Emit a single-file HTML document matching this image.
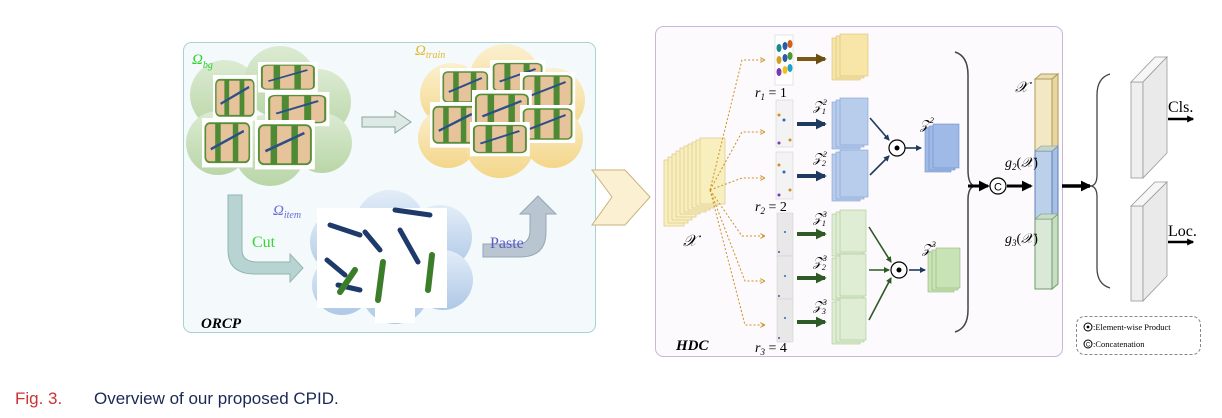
<!DOCTYPE html>
<html><head><meta charset="utf-8"><style>
html,body{margin:0;padding:0;background:#fff;width:1222px;height:418px;overflow:hidden}
svg{display:block}
.m{font-family:"Liberation Serif",serif;font-style:italic}
</style></head><body>
<svg width="1222" height="418" viewBox="0 0 1222 418" xmlns="http://www.w3.org/2000/svg">
<defs>
<marker id="ah" markerUnits="userSpaceOnUse" viewBox="0 0 6 6" markerWidth="11" markerHeight="11" refX="5" refY="3" orient="auto"><path d="M0,0 L6,3 L0,6 z" fill="#000"/></marker>
<marker id="ahs" markerUnits="userSpaceOnUse" viewBox="0 0 6 6" markerWidth="7" markerHeight="7" refX="5" refY="3" orient="auto"><path d="M0,0 L6,3 L0,6 z" fill="#000"/></marker>
<marker id="ab" markerUnits="userSpaceOnUse" viewBox="0 0 6 6" markerWidth="11" markerHeight="11" refX="5" refY="3" orient="auto"><path d="M0,0 L6,3 L0,6 z" fill="#1f3a60"/></marker>
<marker id="abs" markerUnits="userSpaceOnUse" viewBox="0 0 6 6" markerWidth="6" markerHeight="6" refX="5" refY="3" orient="auto"><path d="M0,0 L6,3 L0,6 z" fill="#1f3a60"/></marker>
<marker id="ag" markerUnits="userSpaceOnUse" viewBox="0 0 6 6" markerWidth="11" markerHeight="11" refX="5" refY="3" orient="auto"><path d="M0,0 L6,3 L0,6 z" fill="#2f5a25"/></marker>
<marker id="ags" markerUnits="userSpaceOnUse" viewBox="0 0 6 6" markerWidth="6" markerHeight="6" refX="5" refY="3" orient="auto"><path d="M0,0 L6,3 L0,6 z" fill="#2f5a25"/></marker>
<marker id="ao" markerUnits="userSpaceOnUse" viewBox="0 0 6 6" markerWidth="11" markerHeight="11" refX="5" refY="3" orient="auto"><path d="M0,0 L6,3 L0,6 z" fill="#6b4f10"/></marker>
<marker id="ad" markerUnits="userSpaceOnUse" viewBox="0 0 5 5" markerWidth="5" markerHeight="5" refX="4" refY="2.5" orient="auto"><path d="M0,0 L5,2.5 L0,5" fill="none" stroke="#d09020"/></marker>
<linearGradient id="gg" x1="0" y1="0" x2="0" y2="1"><stop offset="0" stop-color="#dcebd2"/><stop offset="1" stop-color="#b9d6a8"/></linearGradient>
<linearGradient id="gy" x1="0" y1="0" x2="0" y2="1"><stop offset="0" stop-color="#fbf0cf"/><stop offset="1" stop-color="#f3d68a"/></linearGradient>
<linearGradient id="gb" x1="0" y1="0" x2="0" y2="1"><stop offset="0" stop-color="#e3edf8"/><stop offset="1" stop-color="#aec8e6"/></linearGradient>
<g id="bag">
<rect x="0" y="0" width="46" height="38" fill="#fff"/>
<rect x="3" y="4" width="40" height="30" rx="4" fill="#e6c39a" stroke="#5a8f3a" stroke-width="1.5"/>
<rect x="12" y="4" width="5" height="30" fill="#4e8a34"/><rect x="28" y="4" width="5" height="30" fill="#4e8a34"/>
<path d="M8 24 L38 10" stroke="#2c4f8a" stroke-width="2"/>
</g>
</defs>

<!-- ORCP -->
<rect x="183.5" y="42.5" width="412" height="290" rx="8" fill="#f4fafb" stroke="#a9d2d2"/>
<g fill="url(#gg)">
<circle cx="225" cy="95" r="35"/><circle cx="280" cy="82" r="36"/><circle cx="318" cy="102" r="33"/><circle cx="218" cy="143" r="32"/><circle cx="270" cy="150" r="36"/><circle cx="322" cy="143" r="30"/>
</g>
<g fill="url(#gy)">
<circle cx="452" cy="95" r="32"/><circle cx="505" cy="80" r="36"/><circle cx="553" cy="100" r="32"/><circle cx="448" cy="138" r="30"/><circle cx="500" cy="143" r="35"/><circle cx="553" cy="138" r="30"/>
</g>
<g fill="url(#gb)">
<circle cx="342" cy="242" r="32"/><circle cx="390" cy="225" r="35"/><circle cx="440" cy="237" r="32"/><circle cx="342" cy="285" r="30"/><circle cx="395" cy="290" r="34"/><circle cx="443" cy="280" r="30"/>
</g>
<use href="#bag" transform="translate(213,75) scale(0.95,1.2)"/>
<use href="#bag" transform="translate(258,62) scale(1.3,0.8)"/>
<use href="#bag" transform="translate(265,92) scale(1.4,0.9)"/>
<use href="#bag" transform="translate(202,118) scale(1.1,1.3)"/>
<use href="#bag" transform="translate(255,120) scale(1.3,1.3)"/>
<use href="#bag" transform="translate(440,68) scale(1.1,1.0)"/>
<use href="#bag" transform="translate(490,60) scale(1.2,0.9)"/>
<use href="#bag" transform="translate(520,72) scale(1.2,1.0)"/>
<use href="#bag" transform="translate(430,102) scale(1.1,1.2)"/>
<use href="#bag" transform="translate(472,90) scale(1.3,1.1)"/>
<use href="#bag" transform="translate(520,105) scale(1.2,1.0)"/>
<use href="#bag" transform="translate(470,122) scale(1.3,0.9)"/>
<rect x="317" y="208" width="130" height="100" fill="#fff"/>
<rect x="375" y="295" width="40" height="28" fill="#fff"/>
<g stroke="#1d3a6a" stroke-width="5" stroke-linecap="round" fill="none">
<path d="M330 225 L360 235"/><path d="M365 232 L380 250"/><path d="M395 210 L430 215"/><path d="M327 260 L345 275"/><path d="M400 230 L418 262"/><path d="M338 285 L360 290"/>
</g>
<g stroke="#3c7d2a" stroke-width="6" stroke-linecap="round" fill="none">
<path d="M383 262 L378 300"/><path d="M432 255 L428 290"/><path d="M355 270 L340 292"/>
</g>
<path d="M362 117 L395 117 L395 111 L411 122 L395 133 L395 127 L362 127 z" fill="#dde9e4" stroke="#8aa49a"/>
<path d="M228 195 L242 195 L242 250 Q242 262 258 262 L290 262 L290 254 L303 268 L290 282 L290 274 L255 274 Q228 274 228 250 z" fill="#b8d4d2" stroke="#94b4b2"/>
<path d="M483 244 L518 244 Q530 244 530 230 L530 214 L520 214 L538 196 L556 214 L546 214 L546 232 Q546 257 520 257 L483 257 z" fill="#b9c5d0" stroke="#97a6b5"/>
<text x="192" y="64" fill="#2fd12f" font-size="15" class="m">Ω<tspan font-size="10" dy="4">bg</tspan></text>
<text x="415" y="55" fill="#e0b830" font-size="15" class="m">Ω<tspan font-size="10" dy="3">train</tspan></text>
<text x="273" y="215" fill="#6a6ad8" font-size="15" class="m">Ω<tspan font-size="10" dy="3">item</tspan></text>
<text x="252" y="247" fill="#33d633" font-size="16" font-family="Liberation Serif,serif">Cut</text>
<text x="490" y="248" fill="#5a5ac8" font-size="16" font-family="Liberation Serif,serif">Paste</text>
<text x="201" y="328" font-size="15" font-weight="bold" class="m">ORCP</text>

<path d="M592 170 L625 170 L650 197 L625 225 L592 225 L612 197 z" fill="#fbf1d2" stroke="#c9b27a"/>

<!-- HDC -->
<rect x="655.5" y="26.5" width="407" height="330" rx="8" fill="#fcfafd" stroke="#c9b6d9"/>
<g fill="#f8efbf" stroke="#dcc888" stroke-width="0.7">
<rect x="664" y="160" width="20" height="66"/><rect x="668" y="157" width="20" height="66"/><rect x="672" y="154" width="20" height="66"/><rect x="676" y="151" width="20" height="66"/><rect x="680" y="148" width="20" height="66"/><rect x="684" y="146" width="22" height="66"/><rect x="688" y="144" width="22" height="66"/><rect x="692" y="142" width="22" height="66"/><rect x="696" y="140" width="22" height="66"/><rect x="700" y="138" width="25" height="66"/>
</g>
<text x="683" y="246" font-size="16" class="m">𝒳</text>
<g stroke="#d09020" stroke-dasharray="2,2" fill="none" stroke-width="1" marker-end="url(#ad)">
<path d="M710 190 L742 60 L764 60"/>
<path d="M710 190 L742 132 L764 132"/>
<path d="M710 190 L742 178 L764 178"/>
<path d="M710 190 L742 236 L764 236"/>
<path d="M710 190 L745 281 L764 281"/>
<path d="M710 190 L745 325 L764 325"/>
</g>
<g stroke="#ccc" stroke-width="0.5">
<rect x="775" y="35" width="18" height="50" fill="#fff"/>
<rect x="776" y="100" width="17" height="47" fill="#f3f3f3"/>
<rect x="776" y="152" width="17" height="47" fill="#f3f3f3"/>
<rect x="777" y="213" width="16" height="43" fill="#e8e8e8"/>
<rect x="777" y="256" width="16" height="43" fill="#e8e8e8"/>
<rect x="777" y="299" width="16" height="43" fill="#e8e8e8"/>
</g>
<g>
<ellipse cx="779" cy="48" rx="2.5" ry="4" fill="#1a8a8a"/><ellipse cx="785" cy="46" rx="2.5" ry="4" fill="#2a5aa8"/><ellipse cx="790" cy="44" rx="2.5" ry="4" fill="#d06020"/>
<ellipse cx="779" cy="60" rx="2.5" ry="4" fill="#d0a020"/><ellipse cx="785" cy="58" rx="2.5" ry="4" fill="#2a5aa8"/><ellipse cx="790" cy="56" rx="2.5" ry="4" fill="#4a9a3a"/>
<ellipse cx="779" cy="72" rx="2.5" ry="4" fill="#7a3ab0"/><ellipse cx="785" cy="70" rx="2.5" ry="4" fill="#f0c020"/><ellipse cx="790" cy="68" rx="2.5" ry="4" fill="#20a0d0"/>
</g>
<g fill="#2a6ab0"><circle cx="784" cy="120" r="1.5"/><circle cx="784" cy="172" r="1.5"/><circle cx="785" cy="232" r="1"/><circle cx="785" cy="276" r="1"/><circle cx="785" cy="318" r="1"/></g>
<g fill="#d09020"><circle cx="779" cy="115" r="1.5"/><circle cx="779" cy="165" r="1.5"/><circle cx="790" cy="140" r="1.5"/><circle cx="790" cy="190" r="1.5"/></g>
<g fill="#7a3ab0"><circle cx="779" cy="143" r="1.5"/><circle cx="779" cy="195" r="1.5"/><circle cx="779" cy="252" r="1"/><circle cx="779" cy="296" r="1"/><circle cx="779" cy="338" r="1"/></g>
<text x="755" y="97" font-size="14" class="m">r<tspan font-size="9" dy="3">1</tspan><tspan dy="-3" font-style="normal"> = 1</tspan></text>
<text x="755" y="211" font-size="14" class="m">r<tspan font-size="9" dy="3">2</tspan><tspan dy="-3" font-style="normal"> = 2</tspan></text>
<text x="755" y="352" font-size="14" class="m">r<tspan font-size="9" dy="3">3</tspan><tspan dy="-3" font-style="normal"> = 4</tspan></text>
<line x1="797" y1="59" x2="825" y2="59" stroke="#7a5a14" stroke-width="4" marker-end="url(#ao)"/>
<line x1="797" y1="124" x2="825" y2="124" stroke="#1f3a60" stroke-width="4" marker-end="url(#ab)"/>
<line x1="797" y1="176" x2="825" y2="176" stroke="#1f3a60" stroke-width="4" marker-end="url(#ab)"/>
<line x1="797" y1="234" x2="825" y2="234" stroke="#2f5a25" stroke-width="4" marker-end="url(#ag)"/>
<line x1="797" y1="278" x2="825" y2="278" stroke="#2f5a25" stroke-width="4" marker-end="url(#ag)"/>
<line x1="797" y1="322" x2="825" y2="322" stroke="#2f5a25" stroke-width="4" marker-end="url(#ag)"/>
<g stroke-width="0.6">
<g fill="#f8e6a8" stroke="#d9c075"><rect x="832" y="38" width="28" height="42"/><rect x="836" y="36" width="28" height="42"/><rect x="840" y="34" width="28" height="42"/></g>
<g fill="#b8cdec" stroke="#7f9fd0"><rect x="832" y="102" width="28" height="47"/><rect x="836" y="100" width="28" height="47"/><rect x="840" y="98" width="28" height="47"/></g>
<g fill="#b8cdec" stroke="#7f9fd0"><rect x="832" y="154" width="28" height="47"/><rect x="836" y="152" width="28" height="47"/><rect x="840" y="150" width="28" height="47"/></g>
<g fill="#9fbae6" stroke="#6e8ec8"><rect x="925" y="128" width="26" height="44"/><rect x="929" y="126" width="26" height="44"/><rect x="933" y="124" width="26" height="44"/></g>
<g fill="#deedd3" stroke="#a9c697"><rect x="832" y="214" width="28" height="42"/><rect x="836" y="212" width="28" height="42"/><rect x="840" y="210" width="26" height="42"/></g>
<g fill="#deedd3" stroke="#a9c697"><rect x="832" y="258" width="28" height="42"/><rect x="836" y="256" width="28" height="42"/><rect x="840" y="254" width="26" height="42"/></g>
<g fill="#deedd3" stroke="#a9c697"><rect x="832" y="302" width="28" height="42"/><rect x="836" y="300" width="28" height="42"/><rect x="840" y="298" width="26" height="42"/></g>
<g fill="#c8e3b5" stroke="#95b87f"><rect x="928" y="252" width="26" height="40"/><rect x="932" y="250" width="26" height="40"/><rect x="936" y="248" width="24" height="40"/></g>
</g>
<g font-size="13" class="m">
<text x="813" y="110">𝒵<tspan font-size="8" dy="-5">2</tspan><tspan font-size="8" dx="-5" dy="9">1</tspan></text>
<text x="813" y="162">𝒵<tspan font-size="8" dy="-5">2</tspan><tspan font-size="8" dx="-5" dy="9">2</tspan></text>
<text x="813" y="222">𝒵<tspan font-size="8" dy="-5">3</tspan><tspan font-size="8" dx="-5" dy="9">1</tspan></text>
<text x="813" y="266">𝒵<tspan font-size="8" dy="-5">3</tspan><tspan font-size="8" dx="-5" dy="9">2</tspan></text>
<text x="813" y="310">𝒵<tspan font-size="8" dy="-5">3</tspan><tspan font-size="8" dx="-5" dy="9">3</tspan></text>
<text x="920" y="129">𝒵<tspan font-size="8" dy="-6">2</tspan></text>
<text x="922" y="253">𝒵<tspan font-size="8" dy="-6">3</tspan></text>
</g>
<g stroke="#1f3a60" stroke-width="1.6" fill="none">
<line x1="870" y1="118" x2="889" y2="140" marker-end="url(#abs)"/><line x1="870" y1="175" x2="889" y2="156" marker-end="url(#abs)"/><line x1="905" y1="148" x2="921" y2="148" marker-end="url(#abs)"/>
<line x1="909" y1="270" x2="925" y2="270" marker-end="url(#abs)"/>
</g>
<g stroke="#2f5a25" stroke-width="1.6" fill="none">
<line x1="869" y1="227" x2="891" y2="262" marker-end="url(#ags)"/><line x1="869" y1="270" x2="889" y2="270" marker-end="url(#ags)"/><line x1="869" y1="320" x2="891" y2="278" marker-end="url(#ags)"/>
</g>
<circle cx="897" cy="148" r="8" fill="#fff" stroke="#000" stroke-width="1.2"/><circle cx="897" cy="148" r="2.5"/>
<circle cx="899" cy="270" r="8" fill="#fff" stroke="#000" stroke-width="1.2"/><circle cx="899" cy="270" r="2.5"/>
<path d="M955 52 Q968 56 968 75 L968 170 Q968 185 975 186 Q968 187 968 200 L968 310 Q968 328 955 332" fill="none" stroke="#444" stroke-width="1.5"/>
<line x1="968" y1="186" x2="988" y2="186" stroke="#000" stroke-width="3" marker-end="url(#ah)"/>
<circle cx="998" cy="186" r="8" fill="#fff" stroke="#000" stroke-width="1.2"/><text x="998" y="190.5" font-size="11" text-anchor="middle" font-family="Liberation Sans,sans-serif">C</text>
<line x1="1007" y1="186" x2="1031" y2="186" stroke="#000" stroke-width="3" marker-end="url(#ah)"/>
<path d="M1035 79 L1041 74 L1058 74 L1052 79 z" fill="#e9dfb6" stroke="#b39a55"/>
<rect x="1035" y="79" width="17" height="72" fill="#f3e8c4" stroke="#b39a55"/><path d="M1052 79 L1058 74 L1058 146 L1052 151 z" fill="#e6d6a0" stroke="#b39a55"/>
<rect x="1035" y="151" width="17" height="68" fill="#bcd0ea" stroke="#5f82b8"/><path d="M1052 151 L1058 146 L1058 214 L1052 219 z" fill="#a6bfe3" stroke="#5f82b8"/>
<path d="M1035 151 L1041 146 L1058 146 L1052 151 z" fill="#c8d4c8" stroke="#7a9aa0" stroke-width="0.6"/>
<rect x="1035" y="219" width="17" height="70" fill="#dae9d7" stroke="#6e9a66"/><path d="M1052 219 L1058 214 L1058 284 L1052 289 z" fill="#c8ddc3" stroke="#6e9a66"/>
<path d="M1035 219 L1041 214 L1058 214 L1052 219 z" fill="#c8dccc" stroke="#6e9a66" stroke-width="0.6"/>
<text x="1015" y="92" font-size="15" class="m">𝒳</text>
<text x="1005" y="167" font-size="14" class="m">g<tspan font-size="9" dy="3">2</tspan><tspan dy="-3" font-style="normal">(</tspan>𝒳<tspan font-style="normal">)</tspan></text>
<text x="1005" y="243" font-size="14" class="m">g<tspan font-size="9" dy="3">3</tspan><tspan dy="-3" font-style="normal">(</tspan>𝒳<tspan font-style="normal">)</tspan></text>
<line x1="1062" y1="186" x2="1090" y2="186" stroke="#000" stroke-width="3.5" marker-end="url(#ah)"/>
<path d="M1110 74 Q1097 78 1097 95 L1097 175 Q1097 185 1091 186 Q1097 187 1097 197 L1097 268 Q1097 284 1110 288" fill="none" stroke="#444" stroke-width="1.3"/>
<g fill="#efefef" stroke="#999" stroke-width="0.8">
<rect x="1131" y="82" width="12" height="96"/><path d="M1131 82 L1155 57 L1167 57 L1143 82 z" fill="#f6f6f6"/><path d="M1143 82 L1167 57 L1167 153 L1143 178 z" fill="#eaeaea"/>
<rect x="1131" y="206" width="12" height="95"/><path d="M1131 206 L1155 182 L1167 182 L1143 206 z" fill="#f6f6f6"/><path d="M1143 206 L1167 182 L1167 276 L1143 301 z" fill="#eaeaea"/>
</g>
<text x="1168" y="112" font-size="16" font-family="Liberation Serif,serif">Cls.</text>
<line x1="1168" y1="119" x2="1193" y2="119" stroke="#000" stroke-width="2.5" marker-end="url(#ahs)"/>
<text x="1168" y="236" font-size="16" font-family="Liberation Serif,serif">Loc.</text>
<line x1="1168" y1="242" x2="1193" y2="242" stroke="#000" stroke-width="2.5" marker-end="url(#ahs)"/>
<rect x="1076.5" y="316.5" width="124" height="38" rx="8" fill="#fff" stroke="#888" stroke-dasharray="3,2"/>
<circle cx="1088" cy="327" r="4" fill="#fff" stroke="#000"/><circle cx="1088" cy="327" r="1.4"/>
<text x="1093" y="330" font-size="8.5" font-family="Liberation Serif,serif">:Element-wise Product</text>
<circle cx="1088" cy="344" r="4" fill="#fff" stroke="#000"/><text x="1088" y="346.5" font-size="6" text-anchor="middle" font-family="Liberation Sans,sans-serif">C</text>
<text x="1093" y="347" font-size="8.5" font-family="Liberation Serif,serif">:Concatenation</text>
<text x="676" y="350" font-size="15" font-weight="bold" class="m">HDC</text>
<text x="15" y="404" font-size="17" font-family="Liberation Sans,sans-serif" fill="#c33"><tspan>Fig. 3.</tspan><tspan fill="#1a2a55" x="94">Overview of our proposed CPID.</tspan></text>
</svg>
</body></html>
